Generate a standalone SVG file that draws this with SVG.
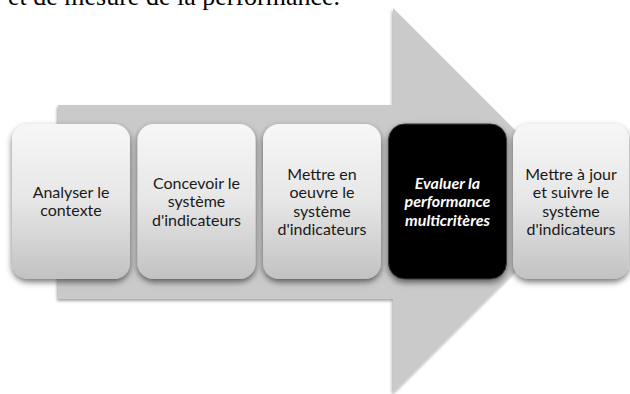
<svg xmlns="http://www.w3.org/2000/svg" width="630" height="394" viewBox="0 0 630 394">
  <defs>
    <linearGradient id="boxGrad" x1="0" y1="0" x2="0" y2="1">
      <stop offset="0" stop-color="#f7f7f7"/>
      <stop offset="0.5" stop-color="#e6e6e6"/>
      <stop offset="1" stop-color="#c2c2c2"/>
    </linearGradient>
    <linearGradient id="blackGrad" x1="0" y1="0" x2="0" y2="1">
      <stop offset="0" stop-color="#000"/>
      <stop offset="1" stop-color="#050505"/>
    </linearGradient>
    <filter id="arrowShadow" x="-10%" y="-10%" width="120%" height="120%">
      <feDropShadow dx="-1" dy="2" stdDeviation="1.5" flood-color="#000" flood-opacity="0.35"/>
    </filter>
    <filter id="boxShadow" x="-15%" y="-15%" width="130%" height="135%">
      <feDropShadow dx="0" dy="3" stdDeviation="3" flood-color="#000" flood-opacity="0.55"/>
    </filter>
  </defs>
  <style>
    .box { fill: url(#boxGrad); filter: url(#boxShadow); }
    .dark { fill: url(#blackGrad); stroke: #3a3a3a; stroke-width: 1; filter: url(#boxShadow); }
    .lbl { font-family: Lato, Carlito, "Liberation Sans", sans-serif; font-size: 16px; fill: #1a1a1a; text-anchor: middle; }
    .lblw { font-family: Lato, Carlito, "Liberation Sans", sans-serif; font-size: 16px; fill: #ffffff; text-anchor: middle; font-weight: bold; font-style: italic; }
    .top { font-family: "Liberation Serif", "Times New Roman", serif; font-size: 26px; fill: #000; }
  </style>
  <rect width="630" height="394" fill="#ffffff"/>
  <text class="top" x="8" y="5">et de mesure de la performance.</text>

  <g id="connectors">
    <path id="arrow" d="M58,105 L393,105 L393,8 L585.5,200.5 L393,393 L393,299 L58,299 Z" fill="#cacaca" filter="url(#arrowShadow)"/>
  </g>

  <g id="n1">
    <rect class="box" x="12" y="124" width="118" height="155" rx="16"/>
    <text class="lbl" y="197.5"><tspan x="71">Analyser le</tspan><tspan x="71" dy="18.5">contexte</tspan></text>
  </g>
  <g id="n2">
    <rect class="box" x="137.5" y="124" width="118" height="155" rx="16"/>
    <text class="lbl" y="188.5"><tspan x="196.5">Concevoir le</tspan><tspan x="196.5" dy="18.5">système</tspan><tspan x="196.5" dy="18.5">d'indicateurs</tspan></text>
  </g>
  <g id="n3">
    <rect class="box" x="263" y="124" width="118" height="155" rx="16"/>
    <text class="lbl" y="179.5"><tspan x="322">Mettre en</tspan><tspan x="322" dy="18.5">oeuvre le</tspan><tspan x="322" dy="18.5">système</tspan><tspan x="322" dy="18.5">d'indicateurs</tspan></text>
  </g>
  <g id="n4">
    <rect class="dark" x="388.5" y="124" width="118" height="155" rx="16"/>
    <text class="lblw" y="188.5"><tspan x="447.5">Evaluer la</tspan><tspan x="447.5" dy="18.5">performance</tspan><tspan x="447.5" dy="18.5">multicritères</tspan></text>
  </g>
  <g id="n5">
    <rect class="box" x="513" y="124" width="116" height="155" rx="16"/>
    <text class="lbl" y="179.5"><tspan x="571">Mettre à jour</tspan><tspan x="571" dy="18.5">et suivre le</tspan><tspan x="571" dy="18.5">système</tspan><tspan x="571" dy="18.5">d'indicateurs</tspan></text>
  </g>
</svg>
